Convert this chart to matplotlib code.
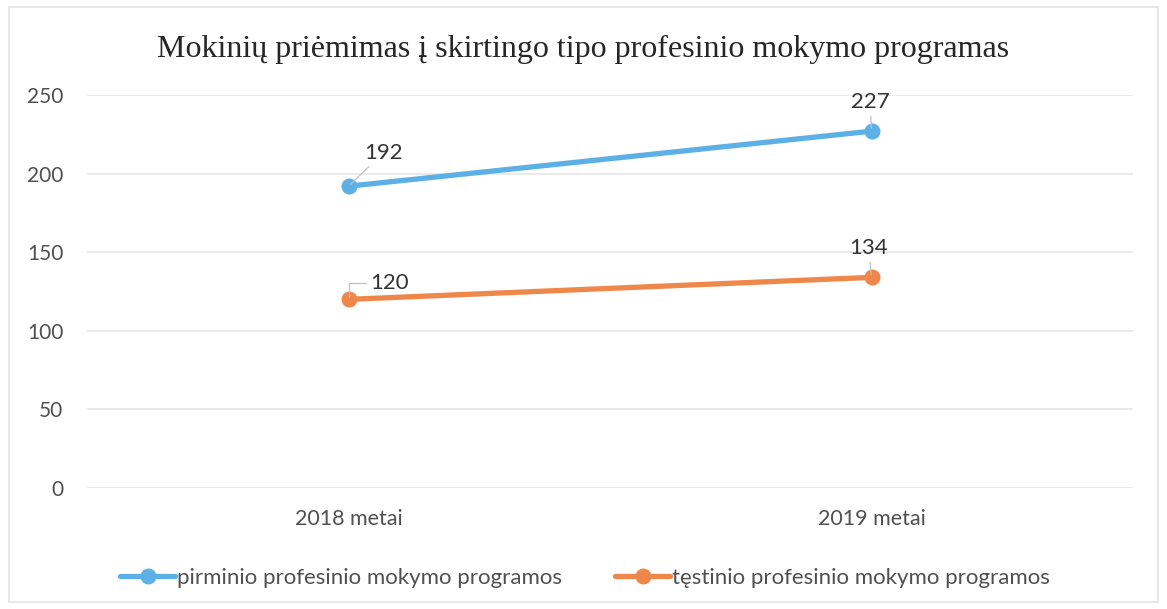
import matplotlib.pyplot as plt
from matplotlib.patches import Rectangle

# data
years = ['2018 metai', '2019 metai']
pirminio = [192, 227]
testinio = [120, 134]
series_names = ['pirminio profesinio mokymo programos', 'tęstinio profesinio mokymo programos']
title = 'Mokinių priėmimas į skirtingo tipo profesinio mokymo programas'
yticks = [0, 50, 100, 150, 200, 250]

blue = '#5CB0E6'
orange = '#F0874A'
txt = '#505050'

plt.rcParams['font.family'] = ['Lato', 'DejaVu Sans']

fig = plt.figure(figsize=(11.67, 6.09), dpi=100)
# thin chart border like the Excel chart area
fig.patches.append(Rectangle((0.008, 0.012), 0.984, 0.976, transform=fig.transFigure,
                             fill=False, edgecolor='#E4E4E4', lw=1.2))

ax = fig.add_axes([0.0746, 0.1987, 0.8963, 0.6453])
x = [0.5, 1.5]

ax.plot(x, pirminio, color=blue, lw=3.8, marker='o', ms=10.5, solid_capstyle='round',
        label=series_names[0], zorder=3)
ax.plot(x, testinio, color=orange, lw=3.8, marker='o', ms=10.5, solid_capstyle='round',
        label=series_names[1], zorder=3)

ax.set_xlim(0, 2)
ax.set_ylim(0, 250)
ax.set_yticks(yticks)
ax.set_xticks(x)
ax.set_xticklabels(years)
ax.grid(axis='y', color='#E6E6E6', lw=1.2)
ax.set_axisbelow(True)
for s in ax.spines.values():
    s.set_visible(False)
ax.tick_params(length=0, labelcolor=txt)
ax.tick_params(axis='y', pad=17, labelsize=15)
ax.tick_params(axis='x', pad=15, labelsize=15.5)

# data labels with leader lines
offsets_p = [(25, 24), (-1, 21)]
offsets_t = [(29.5, 11.5), (-2, 21)]
conns = [['arc3', 'arc3'], ['angle,angleA=0,angleB=90,rad=0', 'arc3']]
for si, (vals, offs) in enumerate([(pirminio, offsets_p), (testinio, offsets_t)]):
    for k, (xi, v, off) in enumerate(zip(x, vals, offs)):
        ax.annotate(str(v), (xi, v), xytext=off, textcoords='offset points',
                    ha='center', va='center', fontsize=16, color='#333333',
                    arrowprops=dict(arrowstyle='-', color='#C0C0C0', lw=0.9,
                                    shrinkA=1, shrinkB=2,
                                    connectionstyle=conns[si][k]))

fig.text(0.5, 0.918, title, ha='center', va='center', fontsize=23,
         family='Liberation Serif', color='#262626')

fig.legend(loc='center', bbox_to_anchor=(0.501, 0.051), ncol=2, frameon=False,
           fontsize=16, labelcolor=txt, handlelength=2.5, handletextpad=0.05,
           columnspacing=2.4)

fig.savefig('out.png', dpi=100)
